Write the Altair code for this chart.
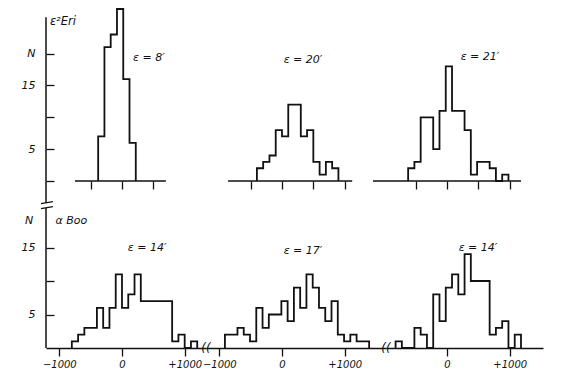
import altair as alt
import pandas as pd

# ---------------- data ----------------
BIN_WIDTH = 100

eri_name = "ε²Eri"
eri_labels = ["ε = 8′", "ε = 20′", "ε = 21′"]
eri_start = [-380, -400, -620]
eri_counts = [
    [7, 21, 23, 27, 16, 6],
    [2, 3, 4, 8, 7, 12, 12, 7, 8, 3, 1, 3, 2],
    [2, 3, 10, 10, 5, 11, 18, 11, 11, 8, 1, 3, 3, 2, 0, 1],
]
eri_ticks = [[-500, 0, 500], [-500, 0, 500, 1000], [-1000, -500, 0, 500, 1000]]
eri_axis_extent = [[-750, 700], [-860, 1120], [-1180, 1180]]
eri_y_ticks = [0, 5, 10, 15, 20]

boo_name = "α Boo"
boo_labels = ["ε = 14′", "ε = 17′", "ε = 14′"]
boo_start = [-800, -910, -820]
boo_counts = [
    [1, 2, 3, 3, 6, 3, 6, 11, 6, 8, 11, 7, 7, 7, 7, 7, 1, 2, 0, 1],
    [2, 2, 3, 2, 1, 6, 3, 5, 5, 7, 4, 9, 6, 11, 9, 6, 4, 7, 2, 1, 2, 1, 1],
    [1, 0, 0, 3, 2, 0, 8, 4, 9, 11, 8, 14, 10, 10, 10, 2, 3, 4, 0, 2],
]
boo_ticks = [-1000, 0, 1000]
boo_y_ticks = [5, 10, 15]

# ---------------- layout / style ----------------
PANEL_W = [160, 180, 157]
X_DOMAIN = [[-1212, 1340], [-1212, 1659], [-973, 1531]]
TOP_H, BOT_H = 172, 134
TOP_YMAX, BOT_YMAX = 27, 20
ROW_GAP = 33
LABEL_POS_TOP = [(430, 19.3), (335, 19.0), (526, 19.5)]
LABEL_POS_BOT = [(400, 14.9), (335, 14.5), (494, 14.9)]
NAME_POS_TOP = (-1150, 25.0)
NAME_POS_BOT = (-1060, 19.0)
N_POS_BOT = (-1480, 19.0)
VLINE_TOP = (-3.4, 25.7)
VLINE_BOT = (0, 20.9)
BREAK_Y = [(21.55, 21.85), (20.8, 21.1)]
FONT = "DejaVu Sans"
INK = "#111111"


def hist_frame(start, counts):
    rows = [{"x": start, "n": 0, "i": 0}]
    for k, c in enumerate(counts):
        rows.append({"x": start + k * BIN_WIDTH, "n": c, "i": k + 1})
    rows.append({"x": start + len(counts) * BIN_WIDTH, "n": 0, "i": len(counts) + 1})
    return pd.DataFrame(rows)


def text_layer(df, xs, ys, xaxis, yaxis, size=11, align="center"):
    return alt.Chart(df).mark_text(
        font=FONT, fontStyle="italic", fontSize=size, color=INK, align=align, baseline="middle"
    ).encode(
        x=alt.X("x:Q", scale=xs, axis=xaxis),
        y=alt.Y("n:Q", scale=ys, axis=yaxis),
        text="t:N",
    )


def rule_layer(df, xs, ys, xaxis, yaxis, width=1.5):
    enc = dict(
        x=alt.X("x:Q", scale=xs, axis=xaxis),
        y=alt.Y("n:Q", scale=ys, axis=yaxis),
    )
    if "x2" in df.columns:
        enc["x2"] = "x2:Q"
    if "n2" in df.columns:
        enc["y2"] = "n2:Q"
    return alt.Chart(df).mark_rule(color=INK, strokeWidth=width).encode(**enc)


def panel(idx, top_row):
    start = eri_start[idx] if top_row else boo_start[idx]
    counts = eri_counts[idx] if top_row else boo_counts[idx]
    label = eri_labels[idx] if top_row else boo_labels[idx]
    lpos = LABEL_POS_TOP[idx] if top_row else LABEL_POS_BOT[idx]
    h = TOP_H if top_row else BOT_H
    ymax = TOP_YMAX if top_row else BOT_YMAX
    xs = alt.Scale(domain=X_DOMAIN[idx], nice=False, zero=False)
    ys = alt.Scale(domain=[0, ymax], nice=False, zero=False)

    if top_row:
        xaxis = alt.Axis(values=eri_ticks[idx], labels=False, domain=False, grid=False,
                         tickSize=8, tickColor=INK, tickWidth=1.3, title=None)
    else:
        xaxis = alt.Axis(values=boo_ticks, grid=False, title=None,
                         labelExpr="datum.value > 0 ? '+' + datum.value : (datum.value < 0 ? '\u2212' + abs(datum.value) : '0')",
                         domain=True, domainColor=INK, domainWidth=1.5,
                         tickSize=8, tickColor=INK, tickWidth=1.3,
                         labelFont=FONT, labelFontStyle="italic", labelFontSize=10,
                         labelColor=INK, labelPadding=3)
    if idx == 0:
        if top_row:
            yaxis = alt.Axis(values=eri_y_ticks, grid=False, title=None, domain=False, offset=-8,
                             labelExpr="datum.value == 20 ? 'N' : ((datum.value == 15 || datum.value == 5) ? datum.value + '' : '')",
                             tickSize=8, tickColor=INK, tickWidth=1.3,
                             labelFont=FONT, labelFontStyle="italic", labelFontSize=11,
                             labelColor=INK, labelPadding=11)
        else:
            yaxis = alt.Axis(values=boo_y_ticks, grid=False, title=None, domain=False, offset=-8,
                             labelExpr="datum.value == 10 ? '' : datum.value + ''",
                             tickSize=8, tickColor=INK, tickWidth=1.3,
                             labelFont=FONT, labelFontStyle="italic", labelFontSize=11,
                             labelColor=INK, labelPadding=11)
    else:
        yaxis = None

    layers = []
    layers.append(
        alt.Chart(hist_frame(start, counts)).mark_line(
            interpolate="step-after", color=INK, strokeWidth=1.8
        ).encode(
            x=alt.X("x:Q", scale=xs, axis=xaxis),
            y=alt.Y("n:Q", scale=ys, axis=yaxis),
            order="i:Q",
        )
    )
    layers.append(text_layer(pd.DataFrame([{"x": lpos[0], "n": lpos[1], "t": label}]),
                             xs, ys, xaxis, yaxis))
    if top_row:
        ext = eri_axis_extent[idx]
        layers.append(rule_layer(pd.DataFrame([{"x": ext[0], "x2": ext[1], "n": 0}]),
                                 xs, ys, xaxis, yaxis))
    if idx == 0:
        x0 = X_DOMAIN[0][0]
        vl = VLINE_TOP if top_row else VLINE_BOT
        layers.append(rule_layer(pd.DataFrame([{"x": x0, "n": vl[0], "n2": vl[1]}]),
                                 xs, ys, xaxis, yaxis))
        if top_row:
            layers.append(text_layer(pd.DataFrame([{"x": NAME_POS_TOP[0], "n": NAME_POS_TOP[1], "t": eri_name}]),
                                     xs, ys, xaxis, yaxis, size=11.5, align="left"))
        else:
            layers.append(text_layer(pd.DataFrame([{"x": NAME_POS_BOT[0], "n": NAME_POS_BOT[1], "t": boo_name}]),
                                     xs, ys, xaxis, yaxis, align="left"))
            layers.append(text_layer(pd.DataFrame([{"x": N_POS_BOT[0], "n": N_POS_BOT[1], "t": "N"}]),
                                     xs, ys, xaxis, yaxis))
            # axis break marks on the vertical axis
            brk = pd.DataFrame([
                {"x": x0 - 80, "x2": x0 + 110, "n": b[0], "n2": b[1]} for b in BREAK_Y
            ])
            layers.append(rule_layer(brk, xs, ys, xaxis, yaxis, width=1.3))
    if (not top_row) and idx > 0:
        layers.append(text_layer(pd.DataFrame([{"x": X_DOMAIN[idx][0], "n": 0, "t": "(("}]),
                                 xs, ys, xaxis, yaxis, size=12))

    return alt.layer(*layers).properties(width=PANEL_W[idx], height=h)


panels = [panel(i, True) for i in range(3)] + [panel(i, False) for i in range(3)]

chart = alt.concat(
    *panels, columns=3, spacing={"row": ROW_GAP, "column": 0}, bounds="flush"
).properties(
    padding={"left": 13, "top": -3, "right": 5, "bottom": 5},
    background="white",
).configure_view(stroke=None)

chart.save("out.html", embed_options={"renderer": "svg", "actions": False})
